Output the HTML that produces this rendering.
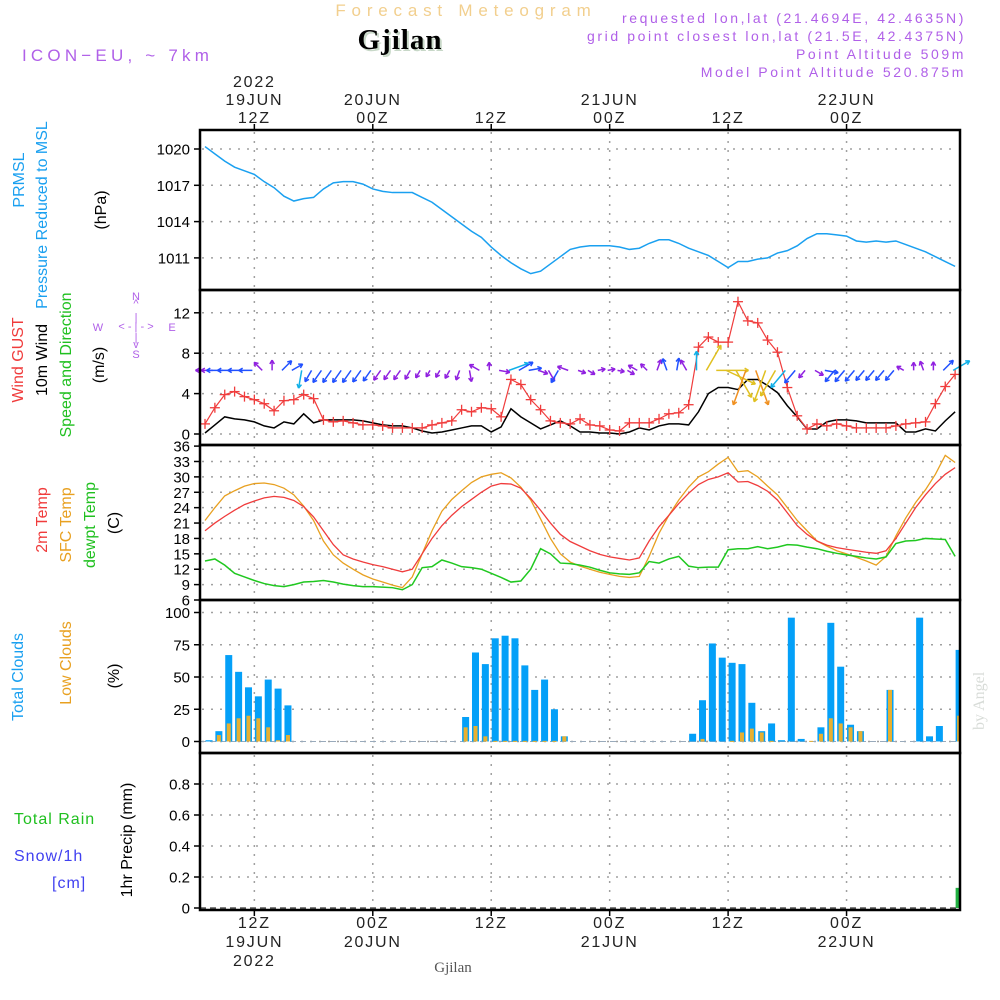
<!DOCTYPE html>
<html><head><meta charset="utf-8">
<style>
body{margin:0;background:#fff;}
svg{display:block;font-family:"Liberation Sans",sans-serif;}
</style></head>
<body>
<svg id="chart" width="1000" height="1000" viewBox="0 0 1000 1000" xmlns="http://www.w3.org/2000/svg">
<rect width="1000" height="1000" fill="#fff"/>
<text x="466" y="16" text-anchor="middle" font-size="17" fill="#f2cf8e" letter-spacing="5.8">Forecast Meteogram</text>
<text x="402" y="51" text-anchor="middle" font-size="29" font-weight="bold" font-family="Liberation Serif,serif" fill="#c8d8c8" letter-spacing="1">Gjilan</text>
<text x="400" y="49" text-anchor="middle" font-size="29" font-weight="bold" font-family="Liberation Serif,serif" fill="#000" letter-spacing="1">Gjilan</text>
<text x="22" y="61" font-size="17" fill="#b060e8" letter-spacing="4.2">ICON−EU, ~ 7km</text>
<g font-size="14" fill="#b060e8" text-anchor="end" letter-spacing="2.6">
<text x="966" y="23">requested lon,lat (21.4694E, 42.4635N)</text>
<text x="966" y="41">grid point closest lon,lat (21.5E, 42.4375N)</text>
<text x="966" y="59">Point Altitude 509m</text>
<text x="966" y="77">Model Point Altitude 520.875m</text>
</g>
<text x="453" y="972" text-anchor="middle" font-size="15" font-family="Liberation Serif,serif" fill="#555">Gjilan</text>
<text transform="translate(984,730) rotate(-90)" font-size="16" font-family="Liberation Serif,serif" fill="#d8dcd8">by Angel</text>

<g font-size="16">
<text transform="translate(24,180) rotate(-90)" text-anchor="middle" fill="#1aa0f0">PRMSL</text>
<text transform="translate(47,215) rotate(-90)" text-anchor="middle" fill="#1aa0f0">Pressure Reduced to MSL</text>
<text transform="translate(106,210) rotate(-90)" text-anchor="middle" fill="#000">(hPa)</text>
<text transform="translate(23,360) rotate(-90)" text-anchor="middle" fill="#f03c3c">Wind GUST</text>
<text transform="translate(47,360) rotate(-90)" text-anchor="middle" fill="#000">10m Wind</text>
<text transform="translate(71,365) rotate(-90)" text-anchor="middle" fill="#20c020">Speed and Direction</text>
<text transform="translate(104,365) rotate(-90)" text-anchor="middle" fill="#000">(m/s)</text>
<text transform="translate(47,520) rotate(-90)" text-anchor="middle" fill="#f03c3c">2m Temp</text>
<text transform="translate(71,525) rotate(-90)" text-anchor="middle" fill="#e8a020">SFC Temp</text>
<text transform="translate(95,525) rotate(-90)" text-anchor="middle" fill="#20c020">dewpt Temp</text>
<text transform="translate(119,523) rotate(-90)" text-anchor="middle" fill="#000">(C)</text>
<text transform="translate(23,677) rotate(-90)" text-anchor="middle" fill="#1aa0f0">Total Clouds</text>
<text transform="translate(71,663) rotate(-90)" text-anchor="middle" fill="#e8a020">Low Clouds</text>
<text transform="translate(119,676) rotate(-90)" text-anchor="middle" fill="#000">(%)</text>
<text transform="translate(132,840) rotate(-90)" text-anchor="middle" fill="#000">1hr Precip (mm)</text>
<text x="14" y="824" fill="#20c020" letter-spacing="1">Total  Rain</text>
<text x="14" y="861" fill="#4040f0" letter-spacing="1">Snow/1h</text>
<text x="52" y="888" fill="#4040f0" letter-spacing="1">[cm]</text>
</g>
<g fill="#b060e8" font-size="11" text-anchor="middle">
<text x="136" y="300">N</text><text x="136" y="307">^</text>
<text x="136" y="358">S</text><text x="136" y="348">v</text>
<text x="98" y="331">W</text><text x="172" y="331">E</text>
<text x="136" y="330">&lt; - | - &gt;</text>
<text x="136" y="321">|</text><text x="136" y="341">|</text>
</g>
<g id="plot"></g>
</svg>
<script>
const pressure=[1020.2,1019.6,1019.0,1018.5,1018.2,1017.9,1017.3,1016.8,1016.1,1015.7,1015.9,1016.0,1016.7,1017.2,1017.3,1017.3,1017.1,1016.7,1016.5,1016.4,1016.4,1016.4,1016.0,1015.6,1015.0,1014.4,1013.8,1013.2,1012.7,1011.9,1011.2,1010.6,1010.1,1009.7,1009.9,1010.5,1011.1,1011.7,1011.9,1012.0,1012.0,1012.0,1011.9,1011.7,1011.8,1012.2,1012.5,1012.5,1012.2,1011.8,1011.5,1011.2,1010.7,1010.2,1010.7,1010.7,1010.9,1011.0,1011.4,1011.6,1012.0,1012.6,1013.0,1013.0,1012.9,1012.8,1012.4,1012.3,1012.4,1012.3,1012.4,1012.1,1011.8,1011.5,1011.1,1010.7,1010.3];
const gust=[1.0,2.6,3.9,4.2,3.7,3.4,3.0,2.3,3.3,3.4,3.9,3.5,1.4,1.2,1.3,1.1,0.9,0.9,0.8,0.6,0.6,0.6,0.6,0.9,1.1,1.3,2.4,2.2,2.6,2.5,1.7,5.4,4.9,3.4,2.4,1.3,1.1,1.0,1.5,0.9,0.8,0.4,0.3,1.1,1.1,1.1,1.5,2.0,2.1,2.9,8.6,9.6,9.1,9.1,13.1,11.2,11.0,9.3,8.1,4.6,1.8,0.5,1.0,0.8,1.0,0.8,0.6,0.6,0.6,0.6,0.8,1.0,1.1,1.2,3.0,4.7,5.9];
const windSpeed=[0.1,0.9,1.7,1.5,1.4,1.2,0.8,0.6,1.2,1.0,2.0,1.1,1.4,1.4,1.4,1.4,1.3,1.1,0.9,0.8,0.8,0.6,0.3,0.1,0.2,0.4,0.6,0.8,0.8,0.2,0.7,2.5,1.7,1.1,0.5,0.9,1.3,0.8,0.2,0.2,0.1,0.1,0.0,0.2,0.6,0.4,0.8,1.0,1.0,0.9,2.2,4.0,4.6,4.6,4.4,5.4,5.4,4.8,4.1,2.8,1.7,0.5,0.5,1.2,1.4,1.4,1.3,1.1,1.1,1.1,1.1,0.2,0.2,0.5,0.3,1.3,2.2];
const windDir=[270,270,270,270,270,270,315,0,45,60,190,210,215,215,215,215,215,215,215,215,215,210,210,210,210,210,200,170,300,0,100,70,60,80,110,150,210,290,110,120,80,80,100,120,300,315,20,340,10,330,0,30,90,115,150,200,160,200,210,220,220,220,120,100,220,220,220,220,220,220,220,300,0,340,0,45,60];
const t2m=[19.5,21,22.3,23.5,24.6,25.3,25.9,26.2,26.0,25.4,24.2,22.2,19.5,16.8,14.8,14.0,13.4,12.9,12.5,12.0,11.5,12.0,15,18,20.5,22.5,24.2,25.6,27,28.2,28.7,28.6,27.8,25.8,23.5,21,18.8,17.4,16.5,15.6,14.9,14.4,14.1,13.8,14.2,17.5,20.3,22.5,24.8,26.8,28.5,29.5,30,30.8,29,29.1,28.3,27.2,25.5,23,20.5,18.8,17.5,16.7,16.2,15.9,15.6,15.3,15.1,15.6,18,21,24,26.5,28.7,30.5,31.8];
const tsfc=[21.5,24,26.3,27.3,28.2,28.7,28.8,28.5,27.8,26.5,24.3,21.5,17.5,14.8,13.2,12,10.9,10.1,9.5,8.9,8.4,10.5,15,19.5,23.3,25.6,27.3,28.9,30,30.5,30.8,29.8,28,25.5,21.8,18,15,13.4,12.6,12,11.4,11,10.6,10.4,10.6,14.5,19,22.5,25.5,28,30,31,32.5,33.8,31,31.2,30,28.2,26.5,24,21.5,19.5,17.5,16.5,15.6,15,14.3,13.6,12.8,14.5,18.5,22,25,27.5,30.5,34.2,32.8];
const dewpt=[13.6,14,12.8,11.2,10.5,9.8,9.2,8.8,8.6,9,9.5,9.6,9.8,9.5,9.1,8.8,8.6,8.6,8.5,8.4,8.0,9,12.3,12.5,13.8,13.2,12.5,12.3,12,11.2,10.4,9.5,9.7,12,16,15,13.2,13.1,12.8,12.4,11.8,11.3,11.1,11,11.3,13.5,13.2,14,14.5,12.6,12.3,12.4,12.4,15.8,16,16,16.4,16,16.3,16.8,16.7,16.3,16,15.5,15.1,14.8,14.5,14.2,14,14.4,17,17.5,17.6,18,17.9,17.8,14.5];
const totalCloud=[1,8,67,54,42,35,48,41,28,0,0,0,0,0,0,0,0,0,0,0,0,0,0,0,0,0,19,69,60,80,82,80,59,40,48,25,4,0,0,0,0,0,0,0,0,0,0,0,0,6,32,76,65,61,60,30,8,14,1,96,2,0,11,92,58,13,8,0,0,40,0,0,96,4,12,0,71];
const lowCloud=[0,5,14,18,20,18,11,1,5,0,0,0,0,0,0,0,0,0,0,0,0,0,0,0,0,0,11,12,4,0.5,0.5,0.5,0.5,0.5,0.5,0.5,4,0,0,0,0,0,0,0,0,0,0,0,0,0,2,0,0,0.5,7,10,7,0.5,0,0,0,0.5,6,18,14,11,8,0,0,40,0,0,0,0,0,0,20];
const precip=[0,0,0,0,0,0,0,0,0,0,0,0,0,0,0,0,0,0,0,0,0,0,0,0,0,0,0,0,0,0,0,0,0,0,0,0,0,0,0,0,0,0,0,0,0,0,0,0,0,0,0,0,0,0,0,0,0,0,0,0,0,0,0,0,0,0,0,0,0,0,0,0,0,0,0,0,0.13];
const pTicks=[1011,1014,1017,1020];
const wTicks=[0,4,8,12];
const tTicks=[6,9,12,15,18,21,24,27,30,33,36];
const cTicks=[0,25,50,75,100];
const rTicks=[0,0.2,0.4,0.6,0.8];
const timeLabelsTop=[["2022","19JUN","12Z"],["20JUN","00Z"],["12Z"],["21JUN","00Z"],["12Z"],["22JUN","00Z"]];
const timeLabelsBot=[["12Z","19JUN","2022"],["00Z","20JUN"],["12Z"],["00Z","21JUN"],["12Z"],["00Z","22JUN"]];
const timeLabelHours=[5,17,29,41,53,65];

const NS="http://www.w3.org/2000/svg";
const X0=205,DX=9.87,L=200,R=960;
const xh=h=>X0+h*DX;
const yP=v=>149+(1020-v)*12.1;
const yW=v=>434-v*10.1;
const yT=v=>600-(v-6)*5.13;
const yC=v=>741.5-v*1.29;
const yR=v=>908-v*155;
const plot=document.getElementById('plot');
function el(tag,attrs,parent){const e=document.createElementNS(NS,tag);for(const k in attrs)e.setAttribute(k,attrs[k]);(parent||plot).appendChild(e);return e;}
const panels=[[130,290],[290,445],[445,600],[600,753],[753,910]];
const grid=el('g',{stroke:'#a0a0a0','stroke-width':1.5,'stroke-dasharray':'2,7',fill:'none'});


timeLabelHours.forEach(h=>{panels.forEach(p=>{el('line',{x1:xh(h),x2:xh(h),y1:p[0]+2,y2:p[1]-2},grid);});});
function hgrid(ticks,f,panel,fmt,name){
  const g=el('g',{});
  
  
  ticks.forEach(t=>{const y=f(t);
    if(y>panel[0]+3&&y<panel[1]-3)el('line',{x1:L+2,x2:R-2,y1:y,y2:y},grid);
    el('line',{x1:L-6,x2:L,y1:y,y2:y,stroke:'#000','stroke-width':1.5},g);
    const tx=el('text',{x:L-10,y:y+5.5,'text-anchor':'end','font-size':15,fill:'#000'},g);tx.textContent=fmt(t);});
}
hgrid(pTicks,yP,panels[0],t=>t,'pressure-axis');
hgrid(wTicks,yW,panels[1],t=>t,'wind-axis');
hgrid(tTicks,yT,panels[2],t=>t,'temp-axis');
hgrid(cTicks,yC,panels[3],t=>t,'cloud-axis');
hgrid(rTicks,yR,panels[4],t=>t===0?'0':t.toFixed(1),'precip-axis');
const tl=el('g',{'font-size':16,fill:'#222','text-anchor':'middle','letter-spacing':'1.8'});


timeLabelHours.forEach((h,i)=>{
  const top=timeLabelsTop[i];
  top.forEach((s,k)=>{const t=el('text',{x:xh(h),y:127-4-(top.length-1-k)*18},tl);t.textContent=s;});
  timeLabelsBot[i].forEach((s,k)=>{const t=el('text',{x:xh(h),y:928+k*19},tl);t.textContent=s;});
  el('line',{x1:xh(h),x2:xh(h),y1:124,y2:130,stroke:'#000','stroke-width':1.5},tl);
  el('line',{x1:xh(h),x2:xh(h),y1:910,y2:916,stroke:'#000','stroke-width':1.5},tl);
});
function line(data,fx,fy,color,name,w){
  const p=el('polyline',{points:data.map((v,i)=>fx(i)+','+fy(v)).join(' '),fill:'none',stroke:color,'stroke-width':w||1.5});
  
  
  return p;
}
line(pressure,xh,yP,'#1aa0f0','pressure-line');
const cg=el('g',{});


el('line',{x1:L,x2:R,y1:yC(0),y2:yC(0),stroke:'#9ab','stroke-width':1,'stroke-dasharray':'6,4'},cg);
totalCloud.forEach((v,i)=>{const cx=xh(i)+4;
  if(v>0){const b=el('rect',{x:cx-3.5,y:yC(v),width:Math.min(7,R-(cx-3.5)),height:yC(0)-yC(v),fill:'#04a0f8'},cg);
    
    }
  const lv=lowCloud[i];
  if(lv>0){const b=el('rect',{x:cx-2,y:yC(lv),width:Math.min(4,R-(cx-2)),height:Math.max(1,yC(0)-yC(lv)),fill:'#e8b030'},cg);
    
    }
});
const rg=el('g',{});


el('line',{x1:L,x2:R,y1:yR(0),y2:yR(0),stroke:'#000','stroke-width':1,'stroke-dasharray':'6,4'},rg);
precip.forEach((v,i)=>{if(v>0){const cx=xh(i)+4;
  const b=el('rect',{x:cx-3.5,y:yR(v),width:Math.min(7,R-(cx-3.5)),height:yR(0)-yR(v),fill:'#20b040'},rg);
  
  }});
line(tsfc,xh,yT,'#e8a020','sfc-temp-line',1.3);
line(t2m,xh,yT,'#f03c3c','t2m-line',1.3);
line(dewpt,xh,yT,'#20c820','dewpt-line',1.5);
line(windSpeed,xh,yW,'#000','wind-speed-line',1.5);
line(gust,xh,yW,'#f03c3c','gust-line',1.2);
const gg=el('g',{stroke:'#f03c3c','stroke-width':1.3});


gust.forEach((v,i)=>{const x=xh(i),y=yW(v);
  el('line',{x1:x-5,x2:x+5,y1:y,y2:y},gg);el('line',{x1:x,x2:x,y1:y-5,y2:y+5},gg);});
function wcol(s){return s<1?'#9020e0':s<2?'#2050ff':s<3?'#10b0e8':s<4?'#20d0a0':s<5?'#e0c020':'#f09020';}
const ag=el('g',{fill:'none','stroke-width':1.5});


windDir.forEach((d,i)=>{const s=windSpeed[i];const len=7+5.5*s;const a=d*Math.PI/180;
  const x1=xh(i)-2,y1=yW(6.3);const x2=x1+len*Math.sin(a),y2=y1-len*Math.cos(a);
  const c=wcol(s);
  const ar=el('g',{stroke:c},ag);
  
  
  el('line',{x1:x1,y1:y1,x2:x2,y2:y2},ar);
  [2.6,-2.6].forEach(o=>{const b=a+Math.PI+o*0.2;el('line',{x1:x2,y1:y2,x2:x2+4.5*Math.sin(b),y2:y2-4.5*Math.cos(b)},ar);});
});
const bg=el('g',{stroke:'#000','stroke-width':2.5,fill:'none'});


panels.forEach(p=>el('rect',{x:L,y:p[0],width:R-L,height:p[1]-p[0]},bg));
</script>
</body></html>
